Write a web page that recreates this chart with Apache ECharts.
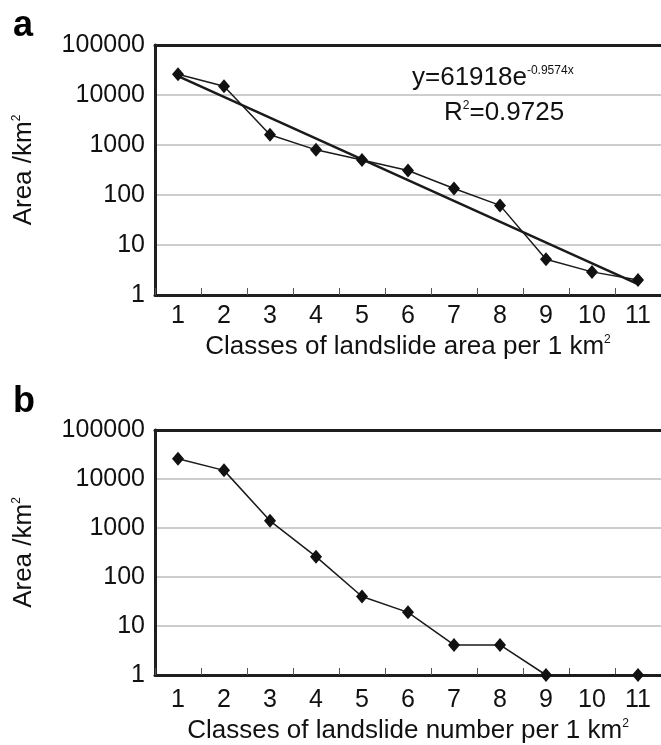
<!DOCTYPE html>
<html>
<head>
<meta charset="utf-8">
<script src="https://cdn.jsdelivr.net/npm/echarts@6/dist/echarts.min.js"></script>
<style>
html,body{margin:0;padding:0;background:#fff;}
#c{width:661px;height:745px;}
</style>
</head>
<body>
<div id="c"></div>
<script>
// ---- data ----
var categories = ['1','2','3','4','5','6','7','8','9','10','11'];
var areaClassValues = [26000, 15000, 1600, 800, 500, 310, 135, 62, 5.2, 2.9, 2];
var trendStart = 23800;   // trend line value at class 1
var trendEnd = 1.65;      // trend line value at class 11
var numberClassValues = [26000, 15000, 1400, 260, 40, 19, 4.1, 4.1, 1, null, 1];
var yTickLabels = ['1','10','100','1000','10000','100000'];
var titleA = 'Classes of landslide area per 1 km';
var titleB = 'Classes of landslide number per 1 km';
var yName = 'Area /km';
var equationMain = 'y=61918e';
var equationExp = '-0.9574x';
var rSquared = '=0.9725';

var FONT = '"Liberation Sans", Arial, sans-serif';
var INK = '#111';
var BORDER = '#1e1e1e';
var supStyle = {fontSize: 12, verticalAlign: 'top', fontFamily: FONT, color: INK, lineHeight: 26};
var nameStyle = {fontSize: 26, fontFamily: FONT, color: INK, lineHeight: 26};

function yAxisCfg(gi) {
  return {
    type: 'log', logBase: 10, min: 1, max: 100000, gridIndex: gi,
    axisLine: {show: true, lineStyle: {color: BORDER, width: 3}},
    axisTick: {show: false},
    splitLine: {show: true, lineStyle: {color: '#bdbdbd', width: 1.5}},
    axisLabel: {
      margin: 10, fontSize: 25, fontFamily: FONT, color: INK,
      formatter: function (v) {
        var i = Math.round(Math.log10(v));
        return yTickLabels[i] !== undefined ? yTickLabels[i] : '';
      }
    },
    name: '{t|' + yName + '}{s|2}',
    nameLocation: 'middle', nameRotate: 90, nameGap: 118,
    nameTextStyle: {fontSize: 26, fontFamily: FONT, color: INK, rich: {t: nameStyle, s: supStyle}}
  };
}
function xAxisCfg(gi, title, labelMargin, nameGap) {
  return {
    type: 'category', data: categories, boundaryGap: true, gridIndex: gi, position: 'bottom',
    axisLine: {show: true, onZero: false, lineStyle: {color: BORDER, width: 3}},
    axisTick: {show: true, inside: true, length: 7, interval: 0, lineStyle: {color: '#555', width: 1}},
    splitLine: {show: false},
    axisLabel: {margin: labelMargin, fontSize: 25, fontFamily: FONT, color: INK, interval: 0},
    name: '{t|' + title + '}{s|2}',
    nameLocation: 'middle', nameGap: nameGap,
    nameTextStyle: {fontSize: 26, fontFamily: FONT, color: INK, rich: {t: nameStyle, s: supStyle}}
  };
}
function topFrameAxis(gi) {
  return {
    type: 'category', data: categories, boundaryGap: true, gridIndex: gi, position: 'top',
    axisLine: {show: true, onZero: false, lineStyle: {color: BORDER, width: 3}},
    axisTick: {show: false}, axisLabel: {show: false}, splitLine: {show: false}
  };
}

var chart = echarts.init(document.getElementById('c'), null, {renderer: 'canvas'});
chart.setOption({
  backgroundColor: '#fff',
  animation: false,
  grid: [
    {left: 155, top: 45, width: 515, height: 250},
    {left: 155, top: 430, width: 515, height: 246}
  ],
  xAxis: [xAxisCfg(0, titleA, 8.5, 39), xAxisCfg(1, titleB, 12.5, 43), topFrameAxis(0), topFrameAxis(1)],
  yAxis: [yAxisCfg(0), yAxisCfg(1)],
  series: [
    {
      type: 'line', xAxisIndex: 0, yAxisIndex: 0,
      data: areaClassValues,
      symbol: 'diamond', symbolSize: [12, 14],
      itemStyle: {color: '#111'},
      lineStyle: {color: '#1a1a1a', width: 1.5},
      z: 3
    },
    {
      type: 'line', xAxisIndex: 0, yAxisIndex: 0,
      data: [[categories[0], trendStart], [categories[categories.length - 1], trendEnd]],
      symbol: 'none',
      lineStyle: {color: '#1a1a1a', width: 2.5},
      z: 2
    },
    {
      type: 'line', xAxisIndex: 1, yAxisIndex: 1,
      data: numberClassValues, connectNulls: true,
      symbol: 'diamond', symbolSize: [12, 14],
      itemStyle: {color: '#111'},
      lineStyle: {color: '#1a1a1a', width: 1.5},
      z: 3
    }
  ],
  graphic: [
    {type: 'text', left: 13, top: 8, style: {text: 'a', font: 'bold 36px ' + FONT, fill: '#000'}},
    {type: 'text', left: 13, top: 384, style: {text: 'b', font: 'bold 36px ' + FONT, fill: '#000'}},
    {type: 'text', x: 412, y: 65, style: {
      text: '{m|' + equationMain + '}{e|' + equationExp + '}',
      rich: {
        m: {fontSize: 26, fontFamily: FONT, fill: INK, lineHeight: 26},
        e: {fontSize: 12, fontFamily: FONT, fill: INK, verticalAlign: 'top', lineHeight: 26}
      }
    }},
    {type: 'text', x: 444, y: 100, style: {
      text: '{m|R}{e|2}{m|' + rSquared + '}',
      rich: {
        m: {fontSize: 26, fontFamily: FONT, fill: INK, lineHeight: 26},
        e: {fontSize: 12, fontFamily: FONT, fill: INK, verticalAlign: 'top', lineHeight: 26}
      }
    }}
  ]
});
</script>
</body>
</html>
